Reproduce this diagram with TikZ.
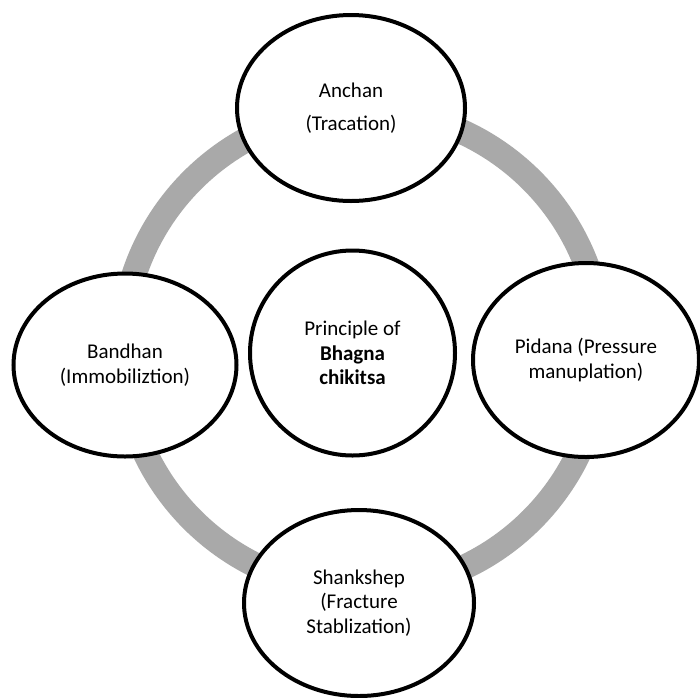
\documentclass[tikz,border=0pt]{standalone}
\usepackage{fontspec}
\setmainfont{Carlito}
\usetikzlibrary{shapes.geometric}
\definecolor{ringgray}{HTML}{A9A9A9}
\tikzset{
  ringline/.style={draw=ringgray, line width=25pt},
  bubble/.style={ellipse, draw=black, fill=white, line width=4pt, inner sep=0pt,
    align=center, font=\fontsize{21}{24.5}\selectfont},
  hub/.style={circle, draw=black, fill=white, line width=4pt, inner sep=0pt,
    align=center, font=\fontsize{21}{24.5}\selectfont, minimum size=205pt}
}
\begin{document}
\begin{tikzpicture}[x=1pt, y=-1pt]
  \clip (0,0) rectangle (700,697);
  \fill[white] (0,0) rectangle (700,697);
  \draw[ringline] (362,350) circle[radius=240];
  \node[hub] (hub) at (352.5,353) {Principle of\\\textbf{Bhagna}\\\textbf{chikitsa}};
  \node[bubble, minimum width=228pt, minimum height=186pt] (top) at (351,108) {Anchan\\[8.5pt](Tracation)};
  \node[bubble, minimum width=226pt, minimum height=194pt] (right) at (586,360) {Pidana (Pressure\\manuplation)};
  \node[bubble, minimum width=223pt, minimum height=183pt] (left) at (125,365) {Bandhan\\(Immobiliztion)};
  \node[bubble, minimum width=230pt, minimum height=186pt] (bottom) at (359,603) {Shankshep\\(Fracture\\Stablization)};
\end{tikzpicture}
\end{document}
